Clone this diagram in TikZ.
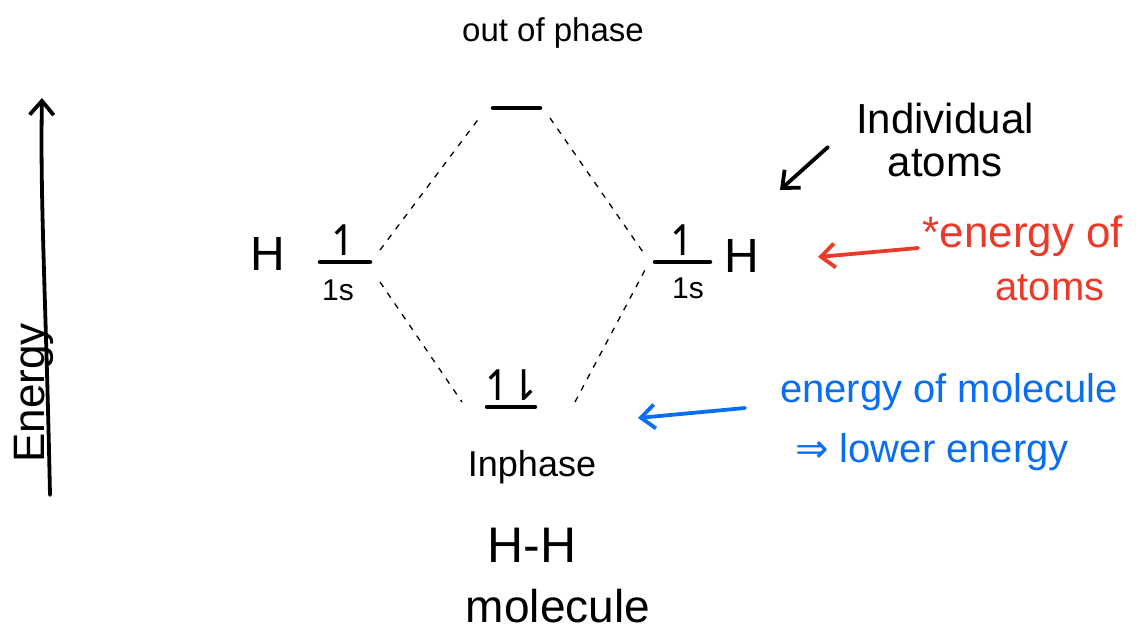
\documentclass[tikz,border=0pt]{standalone}
\usepackage{fontspec}
\setmainfont{Liberation Sans}
\newfontfamily\sym{DejaVu Sans}
\usetikzlibrary{arrows.meta}
\definecolor{myred}{HTML}{EC3A2A}
\definecolor{myblue}{HTML}{0A6EF2}
\tikzset{
  lvl/.style={line width=4.5pt, line cap=round},
  conn/.style={line width=1.3pt, dash pattern=on 6pt off 7pt},
  txt/.style={inner sep=0pt, font=\fontsize{#1}{#1}\selectfont},
  txt/.default=30,
  spin/.style={inner sep=0pt, font=\sym\fontsize{42}{42}\selectfont},
  ptr/.style={line width=3.8pt, line cap=round, line join=round, -{Straight Barb[length=14pt,width=24pt,line width=3.8pt]}},
}
\begin{document}
\begin{tikzpicture}[x=1pt,y=-1pt]
\useasboundingbox (0,0) rectangle (1138,635);
% energy axis
\coordinate (ebot) at (50,495);
\coordinate (etop) at (42,98);
\draw[ptr] (ebot) .. controls (46,300) and (40,200) .. (etop);
\node[txt=44, rotate=90] (elab) at (34,393) {Energy};
% left atom
\coordinate (lL) at (320,262); \coordinate (lR) at (370,262);
\draw[lvl] (lL) -- (lR);
\node[spin] (lup) at (344,240) {↿};
\node[txt=30] (l1s) at (338,290) {1s};
\node[txt=48] (lH) at (268,254) {H};
% right atom
\coordinate (rL) at (655,262); \coordinate (rR) at (710,262);
\draw[lvl] (rL) -- (rR);
\node[spin] (rup) at (683,240) {↿};
\node[txt=30] (r1s) at (688,288) {1s};
\node[txt=48] (rH) at (742,256) {H};
% antibonding
\coordinate (tL) at (493,108); \coordinate (tR) at (540,108);
\draw[lvl] (tL) -- (tR);
\node[txt=33] (oop) at (553,33) {out of phase};
% bonding
\coordinate (bL) at (487,407); \coordinate (bR) at (535,407);
\draw[lvl] (bL) -- (bR);
\node[spin] (bud) at (511,385) {↿\kern-0.2em⇂};
\node[txt=36] (inp) at (532,467) {Inphase};
\node[txt=50] (hh) at (532,545) {H-H};
\node[txt=46] (mol) at (558,606) {molecule};
% dashed correlation lines
\coordinate (c1) at (380,250); \coordinate (c2) at (480,117);
\coordinate (c3) at (550,118); \coordinate (c4) at (645,255);
\coordinate (c5) at (380,282); \coordinate (c6) at (462,402);
\coordinate (c7) at (575,402); \coordinate (c8) at (645,270);
\draw[conn] (c1) -- (c2);
\draw[conn] (c3) -- (c4);
\draw[conn] (c5) -- (c6);
\draw[conn] (c7) -- (c8);
% individual atoms
\node[txt=42] (ind) at (945,118) {Individual};
\node[txt=42] (atm) at (945,163) {atoms};
\coordinate (ia1) at (828,147); \coordinate (ia2) at (780,190);
\draw[ptr] (ia1) -- (ia2);
% red
\node[txt=44, text=myred] (en1) at (1023,236) {*energy of};
\node[txt=40, text=myred] (en2) at (1050,288) {atoms};
\coordinate (ra1) at (918,248); \coordinate (ra2) at (818,257);
\draw[ptr, myred] (ra1) -- (ra2);
% blue
\node[txt=40, text=myblue] (bm1) at (949,392) {energy of molecule};
\node[txt=40, text=myblue] (bm2) at (932,452) {{\sym ⇒} lower energy};
\coordinate (ba1) at (745,408); \coordinate (ba2) at (638,418);
\draw[ptr, myblue] (ba1) -- (ba2);
\end{tikzpicture}
\end{document}
